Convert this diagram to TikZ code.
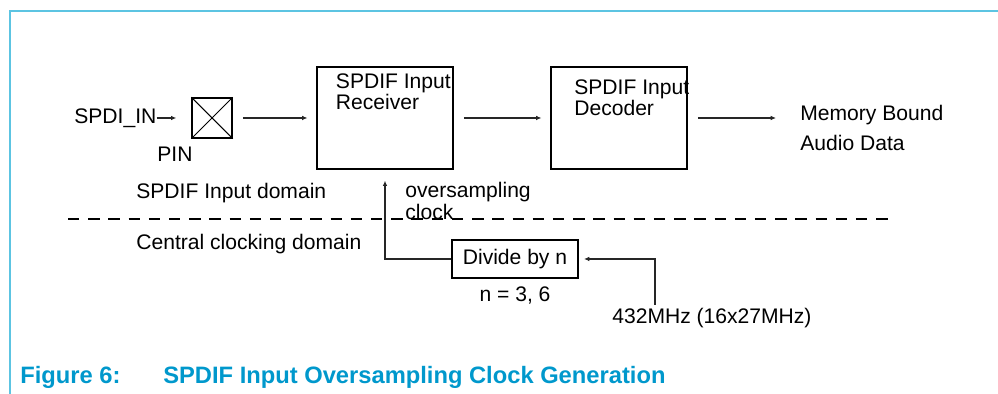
\documentclass[tikz,border=0pt]{standalone}
\usepackage{fontspec}
\setmainfont{Liberation Sans}
\usepackage{xcolor}
\usetikzlibrary{positioning,arrows.meta,calc}
\definecolor{framecol}{RGB}{92,196,226}
\definecolor{capcol}{RGB}{0,152,204}

\begin{document}
\begin{tikzpicture}[
  x=0.02cm, y=-0.02cm,
  font=\fontsize{12}{12}\selectfont,
  box/.style={draw, line width=0.85pt, inner sep=0pt},
  blk/.style={box, minimum width=2.72cm, minimum height=2.04cm},
  txt/.style={inner sep=0pt, align=left},
  arr/.style={-{Latex[length=3pt,width=2.6pt]}, line width=0.6pt, black!85},
  frame/.style={framecol, line width=1.1pt}]

\useasboundingbox (0,0) rectangle (998,394);
\draw[frame] (10,394) -- (10,11) -- (998,11);

% Upper row: the data path.
\node[txt, anchor=base west] (in) at (74,124) {SPDI\_IN};
\node[box, minimum size=0.8cm] (pin) at (212,118) {};
\draw[line width=0.6pt] (pin.north west) -- (pin.south east)
  (pin.north east) -- (pin.south west);
\node[txt, anchor=base] (pinl) at (175,162) {PIN};
\node[blk] (rcv) at (385,118) {};
\node[txt, anchor=north west] (rcvl) at ([xshift=11pt,yshift=-4pt]rcv.north west)
  {SPDIF Input\\Receiver};
\node[blk] (dec) at (619,118) {};
\node[txt, anchor=north west] (decl) at ([xshift=13.5pt,yshift=-7.5pt]dec.north west)
  {SPDIF Input\\Decoder};
\node[txt, anchor=west] (mem) at (800,128)
  {Memory Bound\\[5.6pt]Audio Data};
\coordinate (memin) at (776,118);
\draw[arr] (in.east |- pin.west) -- ([xshift=-8.5pt]pin.west);
\draw[arr] ([xshift=5.7pt]pin.east) -- ([xshift=-5pt]rcv.west);
\draw[arr] ([xshift=5.7pt]rcv.east) -- ([xshift=-5pt]dec.west);
\draw[arr] ([xshift=5.7pt]dec.east) -- (memin);

% Domain split.
\node[txt, anchor=west] (dom1) at (136,193) {SPDIF Input domain};
\node[txt, anchor=west] (osl) at (405,201) {oversampling\\clock};
\coordinate (dl) at (68,219);
\coordinate (dr) at (890,219);
\draw[line width=0.6pt, dash pattern=on 6.5pt off 5pt] (dl) -- (dr);
\node[txt, anchor=west] (dom2) at (136,244) {Central clocking domain};

% Lower row: the clock divider.
\node[box, minimum width=2.52cm, minimum height=0.76cm] (div) at (515,259) {Divide by n};
\node[txt, anchor=base] (divn) at (515,302) {n = 3, 6};
\draw[arr] (div.west) -| ([yshift=-6.2pt]rcv.south);
\coordinate (clk) at (655,305);
\draw[arr] (clk) |- ([xshift=3pt]div.east);
\node[txt, anchor=base west] (src) at (612,324) {432MHz (16x27MHz)};

% Caption.
\node[txt, anchor=base west, capcol, font=\fontsize{13.5}{13.5}\selectfont\bfseries]
  (capa) at (20,384) {Figure 6:};
\node[txt, anchor=base west, capcol, font=\fontsize{13.5}{13.5}\selectfont\bfseries]
  (capb) at (163,384) {SPDIF Input Oversampling Clock Generation};
\end{tikzpicture}
\end{document}
